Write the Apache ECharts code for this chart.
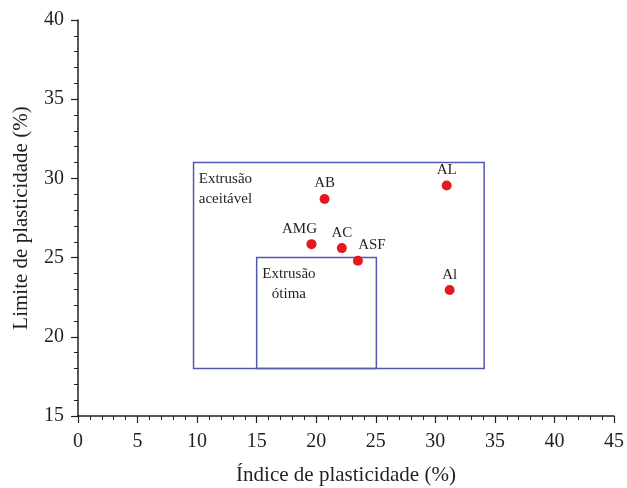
<!DOCTYPE html>
<html>
<head>
<meta charset="utf-8">
<script src="https://cdn.jsdelivr.net/npm/echarts@6/dist/echarts.min.js"></script>
<style>
  html, body { margin: 0; padding: 0; background: #fff; }
  #chart { width: 627px; height: 488px; }
</style>
</head>
<body>
<div id="chart"></div>
<script>
// amostras
var names = ['AB', 'AL', 'AMG', 'AC', 'ASF', 'Al']
var plasticityIndex = [20.7, 30.95, 19.6, 22.15, 23.5, 31.2]
var plasticityLimit = [28.7, 29.55, 25.85, 25.6, 24.8, 22.95]
// label placement per point
var labelPos = ['top', 'top', 'left', 'top', 'right', 'top']

// zonas de extrusao [xmin, xmax, ymin, ymax]
var zoneNames = ['Extrusão\naceitável', 'Extrusão\nótima']
var zoneX = [[9.7, 34.1], [15, 25.05]]
var zoneY = [[18, 31], [18, 25]]

var xTicks = [0, 45, 5]
var yTicks = [15, 40, 5]

var ink = '#231f20'
var boxColor = '#5257b3'
var font = 'Liberation Serif'

var chart = echarts.init(document.getElementById('chart'))

var points = names.map(function (n, i) {
  var lab = { position: 'top' }
  if (labelPos[i] === 'left') lab.offset = [-12, 0]
  if (labelPos[i] === 'right') lab.offset = [14, 0]
  return { name: n, value: [plasticityIndex[i], plasticityLimit[i]], label: lab }
})

var zones = zoneNames.map(function (n, i) {
  return [
    {
      name: n,
      coord: [zoneX[i][0], zoneY[i][1]],
      label: i === 0
        ? { position: [6, 7], align: 'left' }
        : { position: [33, 7], align: 'center' }
    },
    { coord: [zoneX[i][1], zoneY[i][0]] }
  ]
})

chart.setOption({
  animation: false,
  textStyle: { fontFamily: font },
  grid: { left: 78, right: 13, top: 20, bottom: 72, outerBoundsMode: 'none' },
  xAxis: {
    type: 'value',
    min: xTicks[0],
    max: xTicks[1],
    interval: xTicks[2],
    name: 'Índice de plasticidade (%)',
    nameLocation: 'middle',
    nameGap: 49,
    nameTextStyle: { fontSize: 21, color: ink, fontFamily: font },
    axisLine: { show: true, lineStyle: { color: ink, width: 1.5 } },
    axisTick: { show: true, inside: false, length: 7, lineStyle: { color: ink, width: 1.2 } },
    minorTick: { show: true, splitNumber: 5, length: 4, lineStyle: { color: ink, width: 1 } },
    axisLabel: { fontSize: 20, color: ink, margin: 16, fontFamily: font },
    splitLine: { show: false }
  },
  yAxis: {
    type: 'value',
    min: yTicks[0],
    max: yTicks[1],
    interval: yTicks[2],
    name: 'Limite de plasticidade (%)',
    nameLocation: 'middle',
    nameGap: 46,
    nameTextStyle: { fontSize: 21, color: ink, fontFamily: font },
    axisLine: { show: true, lineStyle: { color: ink, width: 1.5 } },
    axisTick: { show: true, inside: false, length: 7, lineStyle: { color: ink, width: 1.2 } },
    minorTick: { show: true, splitNumber: 5, length: 4, lineStyle: { color: ink, width: 1 } },
    axisLabel: { fontSize: 20, color: ink, margin: 14, fontFamily: font },
    splitLine: { show: false }
  },
  series: [{
    type: 'scatter',
    symbolSize: 10,
    itemStyle: { color: '#e3191f', opacity: 1 },
    label: {
      show: true,
      formatter: '{b}',
      fontSize: 15,
      color: ink,
      fontFamily: font,
      distance: 3
    },
    data: points,
    markArea: {
      silent: true,
      itemStyle: { color: 'rgba(0,0,0,0)', borderColor: boxColor, borderWidth: 1.5 },
      label: {
        show: true,
        fontSize: 15,
        lineHeight: 20,
        color: ink,
        fontFamily: font
      },
      data: zones
    }
  }]
})
</script>
</body>
</html>
